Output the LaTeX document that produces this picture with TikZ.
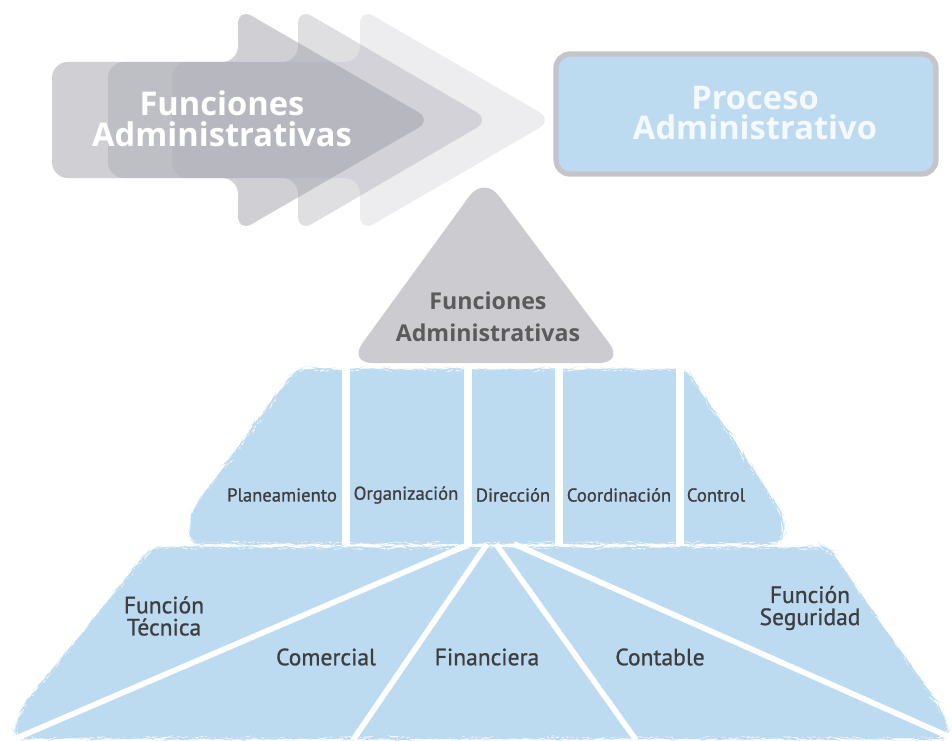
\documentclass[tikz,border=0pt]{standalone}
\usepackage{fontspec}
\setmainfont{Open Sans}
\newfontfamily\narrowfont[UprightFeatures={FakeBold=0.9}]{PT Sans}
\usetikzlibrary{decorations.pathmorphing}
\definecolor{paleblue}{HTML}{BCDAF0}
\definecolor{arrowgray}{HTML}{9A9AA6}
\definecolor{trigray}{HTML}{CBCBD0}
\definecolor{boxedge}{HTML}{C4C4CA}
\definecolor{labelgray}{HTML}{3E3E40}
\begin{document}
\begin{tikzpicture}[x=0.02cm, y=-0.02cm,
  flecha/.style={fill=arrowgray, rounded corners=9pt},
  banda/.style={fill=paleblue, rounded corners=6pt, decorate,
    decoration={random steps, segment length=1.5pt, amplitude=0.35pt}},
  titulo/.style={text=white, font=\bfseries\fontsize{18.6}{17.6}\selectfont, align=center},
  etiqueta/.style={text=labelgray, font=\narrowfont\fontsize{10.6}{10}\selectfont},
  funcion/.style={text=labelgray, font=\narrowfont\fontsize{13.4}{12.6}\selectfont, align=center},
  corte/.style={draw=white, line width=4pt},
  abanico/.style={draw=white, line width=3.2pt}]
  \useasboundingbox (0,0) rectangle (952,740);

  % three overlapping arrows
  \path[flecha, fill opacity=0.48] (52,62) -- (238,62) -- (238,8) -- (432,120)
    -- (238,232) -- (238,178) -- (52,178) -- cycle;
  \path[flecha, fill opacity=0.32] (108,62) -- (298,62) -- (298,8) -- (490,120)
    -- (298,232) -- (298,178) -- (108,178) -- cycle;
  \path[flecha, fill opacity=0.18] (172,62) -- (360,62) -- (360,8) -- (553,120)
    -- (360,232) -- (360,178) -- (172,178) -- cycle;
  \node[titulo] (funciones) at (222,119) {Funciones\\Administrativas};

  \node[draw=boxedge, line width=3pt, fill=paleblue, rounded corners=8pt,
    minimum width=7.6cm, minimum height=2.4cm] (proceso) at (746,114) {};
  \node[titulo, text=white!85!paleblue] (procesotexto) at (755,113)
    {Proceso\\Administrativo};

  % triangle
  \path[fill=trigray, rounded corners=14pt] (484,176) -- (624,363) -- (348,363) -- cycle;
  \node[text=labelgray!85!white, font=\bfseries\fontsize{13.2}{18.5}\selectfont, align=center]
    (cima) at (488,317) {Funciones\\Administrativas};

  % middle band
  \path[banda] (296,370) -- (686,370) -- (784,518) -- (782,543)
    -- (190,543) -- (192,512) -- cycle;
  \foreach \x in {346,468,559,680}
    \draw[corte] (\x,364) -- (\x,546);
  \node[etiqueta] (planeamiento) at (282,495) {Planeamiento};
  \node[etiqueta] (organizacion) at (406,495) {Organización};
  \node[etiqueta] (direccion) at (513,495) {Dirección};
  \node[etiqueta] (coordinacion) at (619,495) {Coordinación};
  \node[etiqueta] (control) at (716,495) {Control};

  % bottom band
  \path[banda] (152,548) -- (828,548) -- (942,712) -- (950,738)
    -- (14,738) -- (22,708) -- cycle;
  \draw[abanico] (470,544) -- (12,740);
  \draw[abanico] (487,544) -- (353,740);
  \draw[abanico] (496,544) -- (636,740);
  \draw[abanico] (514,544) -- (952,738);
  \node[funcion] (tecnica) at (164,616) {Función\\Técnica};
  \node[funcion] (comercial) at (326,657) {Comercial};
  \node[funcion] (financiera) at (487,657) {Financiera};
  \node[funcion] (contable) at (660,657) {Contable};
  \node[funcion] (seguridad) at (810,608) {Función\\Seguridad};
\end{tikzpicture}
\end{document}
